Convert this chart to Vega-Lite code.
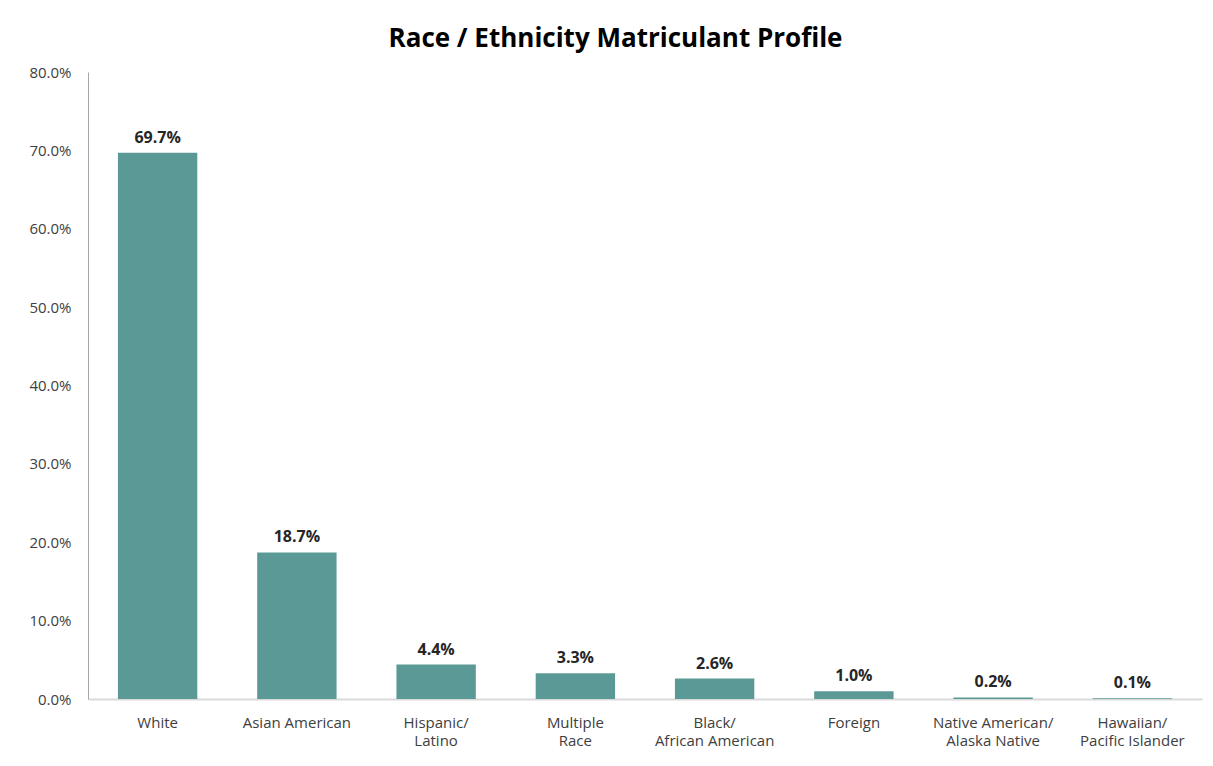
{
  "$schema": "https://vega.github.io/schema/vega-lite/v6.json",
  "width": 1114,
  "height": 627,
  "autosize": {"type": "none"},
  "padding": {"left": 88, "top": 72, "right": 11, "bottom": 67},
  "background": "white",
  "title": {
    "text": "Race / Ethnicity Matriculant Profile",
    "font": "Open Sans",
    "fontSize": 26,
    "fontWeight": "bold",
    "color": "#000000",
    "anchor": "middle",
    "frame": "bounds",
    "offset": 13
  },
  "config": {
    "view": {"stroke": null},
    "font": "Open Sans"
  },
  "data": {
    "values": [
      {"group": "White", "share": 0.697},
      {"group": "Asian American", "share": 0.187},
      {"group": "Hispanic/Latino", "share": 0.044},
      {"group": "Multiple Race", "share": 0.033},
      {"group": "Black/African American", "share": 0.026},
      {"group": "Foreign", "share": 0.010},
      {"group": "Native American/Alaska Native", "share": 0.002},
      {"group": "Hawaiian/Pacific Islander", "share": 0.001}
    ]
  },
  "encoding": {
    "x": {
      "field": "group",
      "type": "nominal",
      "sort": null,
      "scale": {"paddingInner": 0.43, "paddingOuter": 0.215},
      "axis": {
        "title": null,
        "labelAngle": 0,
        "labelFont": "Open Sans",
        "labelFontSize": 15,
        "labelColor": "#404040",
        "labelPadding": 16,
        "labelLineHeight": 18,
        "ticks": false,
        "domainColor": "#d9d9d9",
        "domainWidth": 2,
        "labelExpr": "datum.label == 'Multiple Race' ? ['Multiple', 'Race'] : split(replace(datum.label, '/', '/|'), '|')"
      }
    },
    "y": {
      "field": "share",
      "type": "quantitative",
      "scale": {"domain": [0, 0.8]},
      "axis": {
        "title": null,
        "format": ".1%",
        "values": [0, 0.1, 0.2, 0.3, 0.4, 0.5, 0.6, 0.7, 0.8],
        "grid": false,
        "ticks": false,
        "labelFont": "Open Sans",
        "labelFontSize": 15,
        "labelColor": "#404040",
        "labelPadding": 17,
        "domainColor": "#a6a6a6",
        "domainWidth": 1
      }
    }
  },
  "layer": [
    {"mark": {"type": "bar", "color": "#5A9996"}},
    {
      "mark": {
        "type": "text",
        "baseline": "bottom",
        "dy": -7,
        "font": "Open Sans",
        "fontSize": 16,
        "fontWeight": "bold",
        "color": "#262626"
      },
      "encoding": {
        "text": {"field": "share", "type": "quantitative", "format": ".1%"}
      }
    }
  ]
}
